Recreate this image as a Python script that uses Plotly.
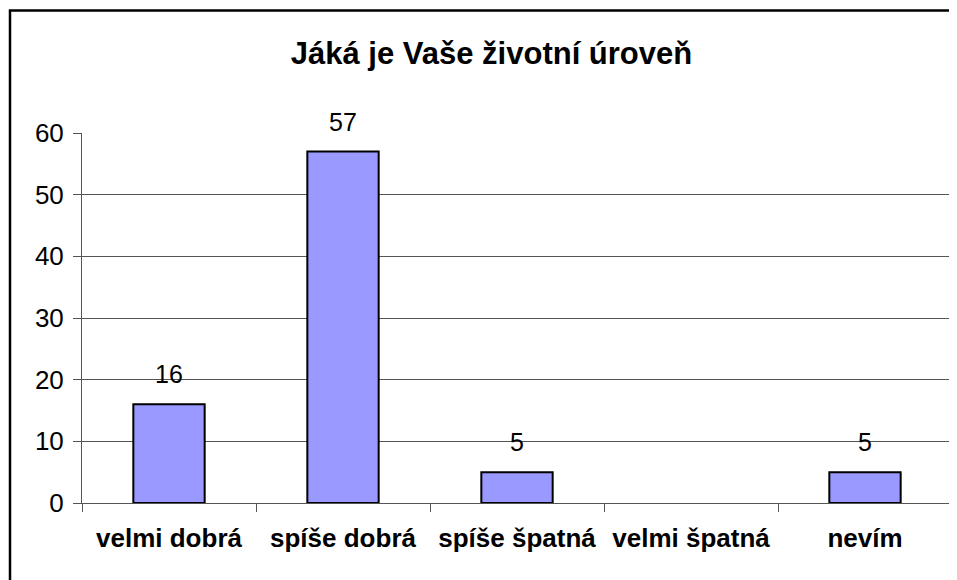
import plotly.graph_objects as go

categories = ["velmi dobrá", "spíše dobrá", "spíše špatná", "velmi špatná", "nevím"]
values = [16, 57, 5, 0, 5]
y_ticks = [0, 10, 20, 30, 40, 50, 60]
title_text = "Jáká je Vaše životní úroveň"

# page has an 8px body margin, so the figure is shifted by 8px
OFF = 8
W, H = 957 - OFF, 580 - OFF
L, R, T = 82 - OFF, 5, 133 - OFF
B = H - (503 - OFF)
plot_w = W - L - R
plot_h = H - T - B

FONT = "Liberation Sans, Arial, sans-serif"

fig = go.Figure()
fig.add_trace(go.Bar(
    x=categories, y=values, width=0.41,
    marker=dict(color="#9999FF",
                line=dict(color="#000000", width=[2 if v > 0 else 0 for v in values])),
    hoverinfo="x+y",
))

annotations = []
for c, v in zip(categories, values):
    if v > 0:
        annotations.append(dict(
            x=c, y=v, xref="x", yref="y", text=str(v), showarrow=False,
            yanchor="bottom", yshift=14,
            font=dict(family=FONT, size=25, color="#000000"),
        ))

bx0 = (10 - 82) / plot_w
by1 = (503 - 10.5) / plot_h

fig.update_layout(
    width=W, height=H,
    margin=dict(l=L, r=R, t=T, b=B, pad=0),
    paper_bgcolor="white", plot_bgcolor="white",
    showlegend=False,
    title=dict(text="<b>" + title_text + "</b>", x=(491.5 - OFF) / W, xanchor="center",
               y=1 - (53 - OFF) / H, yanchor="middle", yref="container",
               font=dict(family=FONT, size=31, color="#000000")),
    xaxis=dict(
        type="category", showgrid=False, showline=True, linecolor="#555555", linewidth=1,
        ticks="outside", tickson="boundaries", ticklen=8, tickcolor="#555555",
        tickfont=dict(family=FONT, size=26, color="#000000"),
        ticklabelstandoff=12,
        tickmode="array", tickvals=categories,
        ticktext=["<b>" + c + "</b>" for c in categories],
        range=[-0.5, len(categories) - 0.5],
    ),
    yaxis=dict(
        range=[0, 60], tickvals=y_ticks, showgrid=True, gridcolor="#555555", gridwidth=1,
        showline=True, linecolor="#555555", linewidth=1,
        ticks="outside", ticklen=8, tickcolor="#555555",
        tickfont=dict(family=FONT, size=26, color="#000000"),
        ticklabelstandoff=4, zeroline=False,
    ),
    annotations=annotations,
    shapes=[dict(type="rect", xref="paper", yref="paper",
                 x0=bx0, x1=1.2, y0=-0.5, y1=by1,
                 line=dict(color="#000000", width=2.5), fillcolor="rgba(0,0,0,0)", layer="above")],
)

fig.write_html("out.html")
